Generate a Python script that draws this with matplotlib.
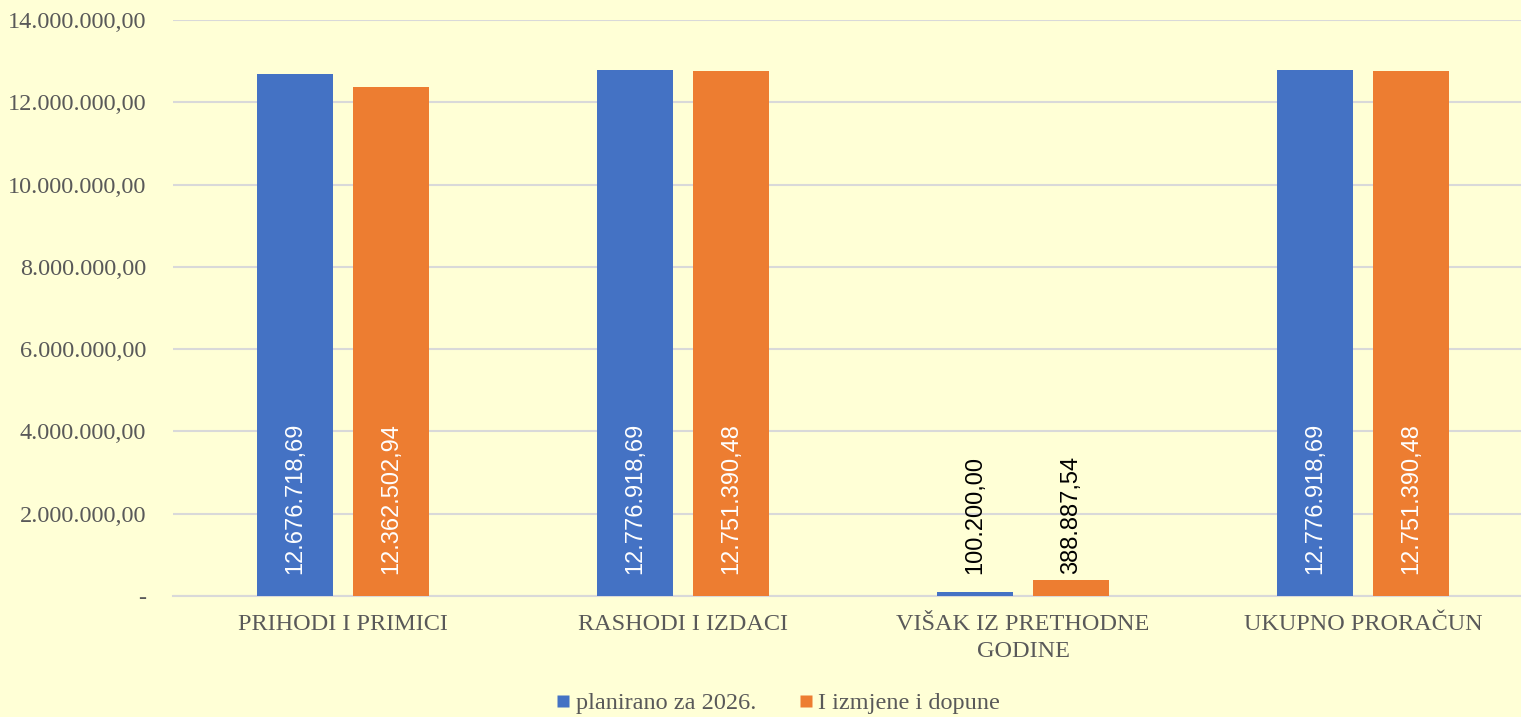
import matplotlib
matplotlib.use("Agg")
import matplotlib.pyplot as plt
import numpy as np
from matplotlib.lines import Line2D
from matplotlib.ticker import FuncFormatter

categories = ["PRIHODI I PRIMICI", "RASHODI I IZDACI", "VIŠAK IZ PRETHODNE\nGODINE", "UKUPNO PRORAČUN"]
series_names = ["planirano za 2026.", "I izmjene i dopune"]
planirano = [12676718.69, 12776918.69, 100200.00, 12776918.69]
izmjene = [12362502.94, 12751390.48, 388887.54, 12751390.48]
yticks = [0, 2000000, 4000000, 6000000, 8000000, 10000000, 12000000, 14000000]

BG = "#FFFFD6"
GRAY = "#595959"
GRID = "#D9D9D9"
colors = ["#4472C4", "#ED7D31"]

def fmt_hr(v):
    s = f"{v:,.2f}"
    return s.replace(",", "X").replace(".", ",").replace("X", ".")

def tick_fmt(v, pos):
    if v == 0:
        return "-"
    return fmt_hr(v)

fig = plt.figure(figsize=(15.21, 7.17), dpi=100, facecolor=BG)
ax = fig.add_axes([173/1521, 1-596/717, 1360/1521, (596-20)/717])
ax.set_facecolor(BG)

x = np.arange(len(categories))
w = 0.2235
off = 0.141
serif = "Liberation Serif"
sans = "Liberation Sans"

for i, (vals, c) in enumerate(zip([planirano, izmjene], colors)):
    pos = x + (-off if i == 0 else off)
    ax.bar(pos, vals, width=w, color=c, zorder=3)
    for p, v in zip(pos, vals):
        tc = "white" if v > 1e6 else "black"
        ax.annotate(fmt_hr(v), xy=(p, 0), xytext=(0, 15.5), textcoords="offset points",
                    rotation=90, ha="center", va="bottom", color=tc,
                    fontsize=17, family=sans, zorder=4)

ax.set_xlim(-0.5, len(categories) - 0.5)
ax.set_ylim(0, 14000000)
ax.set_yticks(yticks)
ax.yaxis.set_major_formatter(FuncFormatter(tick_fmt))
ax.set_xticks(x)
ax.set_xticklabels(categories)
ax.grid(axis="y", color=GRID, linewidth=1.5, zorder=0)
for s in ["top", "right", "left"]:
    ax.spines[s].set_visible(False)
ax.spines["bottom"].set_color(GRID)
ax.spines["bottom"].set_linewidth(1.5)
ax.tick_params(axis="y", length=0, pad=19.4, labelsize=17.5, labelcolor=GRAY)
ax.tick_params(axis="x", length=0, pad=13, labelsize=17.5, labelcolor=GRAY)
for lab in ax.get_yticklabels() + ax.get_xticklabels():
    lab.set_family(serif)
for lab in ax.get_xticklabels():
    lab.set_linespacing(1.35)
    lab.set_verticalalignment("top")

handles = [Line2D([], [], marker="s", linestyle="none", markersize=9,
                  markerfacecolor=c, markeredgecolor="none") for c in colors]
leg = fig.legend(handles, series_names, loc="center", bbox_to_anchor=(778/1521, 1-703/717),
                 ncol=2, frameon=False, handlelength=0.6, handletextpad=0.2,
                 columnspacing=1.75, prop={"family": serif, "size": 17.5})
for t in leg.get_texts():
    t.set_color(GRAY)

fig.savefig("out.png", dpi=100, facecolor=BG)
